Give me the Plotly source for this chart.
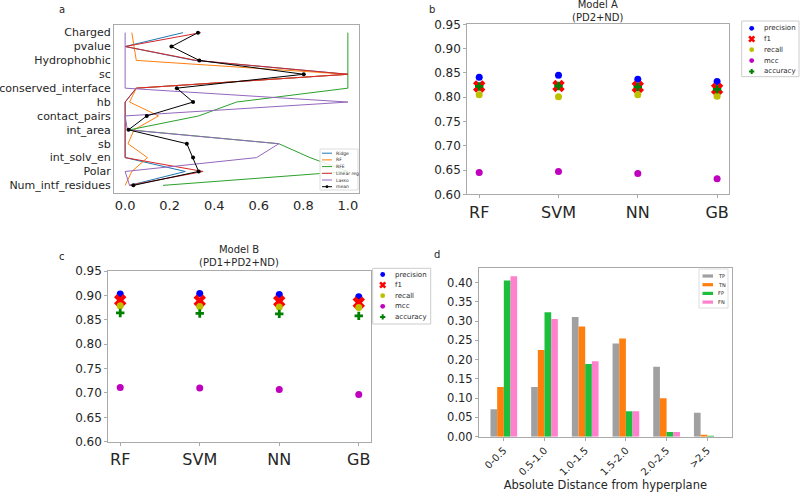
import plotly.graph_objects as go

# ---------------- data ----------------
features = ["Charged", "pvalue", "Hydrophobhic", "sc", "conserved_interface", "hb",
            "contact_pairs", "int_area", "sb", "int_solv_en", "Polar", "Num_intf_residues"]
ridge = [0.26, 0.0, 0.31, 1.0, 0.05, 0.0, 0.0, 0.0, 0.0, 0.0, 0.27, 0.02]
rf_imp = [0.03, 0.04, 0.05, 1.0, 0.05, 0.02, 0.15, 0.04, 0.013, 0.10, 0.03, 0.0]
rfe = [1.0, 1.0, 1.0, 1.0, 1.0, 0.50, 0.33, 0.02, 0.69, 0.83, 1.0, 0.17]
linreg = [0.34, 0.0, 0.32, 1.0, 0.05, 0.0, 0.0, 0.0, 0.0, 0.0, 0.35, 0.02]
lasso = [0.0, 0.0, 0.0, 0.0, 0.0, 1.0, 0.0, 0.01, 0.69, 0.59, 0.0, 0.02]
mean_imp = [0.327, 0.208, 0.333, 0.802, 0.232, 0.305, 0.097, 0.015, 0.277, 0.305, 0.330, 0.037]
a_series_names = ["Ridge", "RF", "RFE", "Linear reg", "Lasso", "mean"]

models = ["RF", "SVM", "NN", "GB"]
metric_names = ["precision", "f1", "recall", "mcc", "accuracy"]
a_precision = [0.841, 0.845, 0.837, 0.832]
a_f1 = [0.822, 0.823, 0.821, 0.817]
a_recall = [0.805, 0.801, 0.805, 0.802]
a_mcc = [0.645, 0.647, 0.643, 0.632]
a_accuracy = [0.822, 0.823, 0.821, 0.816]

b_precision = [0.903, 0.904, 0.902, 0.897]
b_f1 = [0.890, 0.889, 0.888, 0.885]
b_recall = [0.879, 0.877, 0.876, 0.875]
b_mcc = [0.711, 0.710, 0.707, 0.697]
b_accuracy = [0.864, 0.863, 0.862, 0.858]

bins = ["0-0.5", "0.5-1.0", "1.0-1.5", "1.5-2.0", "2.0-2.5", ">2.5"]
conf_names = ["TP", "TN", "FP", "FN"]
tp = [0.071, 0.129, 0.311, 0.242, 0.182, 0.062]
tn = [0.129, 0.225, 0.286, 0.255, 0.100, 0.003]
fp = [0.406, 0.323, 0.189, 0.066, 0.012, 0.001]
fn = [0.417, 0.306, 0.196, 0.066, 0.012, 0.0]

# ---------------- styling ----------------
FONT = "DejaVu Sans"
TXT = "#262626"
W, H = 800, 492
line_colors = ["#1f77b4", "#ff7f0e", "#2ca02c", "#d62728", "#9467bd", "black"]
metric_style = {
    "precision": dict(color="#0000ff", size=7, symbol="circle"),
    "f1": dict(color="#ff0000", size=11, symbol="x"),
    "recall": dict(color="#bfbf00", size=7, symbol="circle"),
    "mcc": dict(color="#bf00bf", size=7, symbol="circle"),
    "accuracy": dict(color="#008000", size=7, symbol="cross"),
}
bar_colors = ["#a0a0a0", "#ff7f0e", "#1cbf3c", "#ff80cc"]


def X(px):
    return px / W


def Y(py):
    return 1 - py / H


def px_x(a, b):
    return [X(a), X(b)]


def px_y(top, bottom):
    return [Y(bottom), Y(top)]


fig = go.Figure()

# ---------------- panel a ----------------
for name, vals, col in zip(a_series_names, [ridge, rf_imp, rfe, linreg, lasso, mean_imp], line_colors):
    is_mean = name == "mean"
    fig.add_trace(go.Scatter(x=vals, y=features, mode="lines+markers" if is_mean else "lines", name=name,
                             line=dict(color=col, width=1), marker=dict(size=4, color=col),
                             xaxis="x", yaxis="y", showlegend=False))

# ---------------- panels b and c ----------------
def add_metrics(series, xa, ya):
    for name, vals in zip(metric_names, series):
        fig.add_trace(go.Scatter(x=models, y=vals, mode="markers", name=name,
                                 marker=dict(**metric_style[name], line=dict(width=0)),
                                 xaxis=xa, yaxis=ya, showlegend=False))


add_metrics([a_precision, a_f1, a_recall, a_mcc, a_accuracy], "x2", "y2")
add_metrics([b_precision, b_f1, b_recall, b_mcc, b_accuracy], "x3", "y3")

# ---------------- panel d ----------------
for name, vals, col in zip(conf_names, [tp, tn, fp, fn], bar_colors):
    fig.add_trace(go.Bar(x=bins, y=vals, name=name, marker=dict(color=col, line=dict(width=0)),
                         xaxis="x4", yaxis="y4", showlegend=False))

SP = "#aaaaaa"


def axis(size, ticks=True, **kw):
    d = dict(showgrid=False, zeroline=False, showline=True, linecolor=SP, linewidth=1, mirror=True,
             ticks="outside" if ticks else "", ticklen=3 if ticks else 0, tickcolor=SP, automargin=False,
             tickfont=dict(family=FONT, size=size, color=TXT))
    d.update(kw)
    return d


fig.update_layout(
    width=W, height=H, margin=dict(l=0, r=0, t=0, b=0, autoexpand=False),
    paper_bgcolor="white", plot_bgcolor="white", showlegend=False,
    font=dict(family=FONT, color=TXT),
    barmode="group", bargap=0.344, bargroupgap=0,
    xaxis=axis(13, ticks=False, domain=px_x(114, 359), anchor="y", range=[-0.05, 1.05],
               tickvals=[0, 0.2, 0.4, 0.6, 0.8, 1.0], tickformat=".1f"),
    yaxis=axis(11, ticks=False, domain=px_y(25, 193), anchor="x", type="category",
               categoryorder="array", categoryarray=features[::-1], range=[-0.55, 11.55]),
    xaxis2=axis(16, domain=px_x(467.3, 729), anchor="y2", type="category", range=[-0.15, 3.15]),
    yaxis2=axis(12, domain=px_y(24.3, 194.3), anchor="x2", range=[0.60, 0.95], dtick=0.05, tickformat=".2f"),
    xaxis3=axis(16, domain=px_x(108.3, 370.7), anchor="y3", type="category", range=[-0.15, 3.15]),
    yaxis3=axis(12, domain=px_y(271, 441.7), anchor="x3", range=[0.60, 0.95], dtick=0.05, tickformat=".2f"),
    xaxis4=axis(10, domain=px_x(479, 731.7), anchor="y4", type="category", range=[-0.61, 5.6], tickangle=-45,
                title=dict(text="Absolute Distance from hyperplane", font=dict(family=FONT, size=11.5, color=TXT),
                           standoff=0)),
    yaxis4=axis(11.5, domain=px_y(267.7, 436.7), anchor="x4", range=[0, 0.439], dtick=0.05, tickformat=".2f"),
)

# ---------------- legends (drawn as layout shapes + text) ----------------
shapes = []
annots = []


def box(x0, y0, x1, y1, fill="white", edge="#cccccc"):
    shapes.append(dict(type="rect", xref="paper", yref="paper", x0=X(x0), x1=X(x1), y0=Y(y1), y1=Y(y0),
                       line=dict(color=edge, width=1), fillcolor=fill, layer="above"))


def label(text, x, y, size):
    annots.append(dict(text=text, x=X(x), y=Y(y), xref="paper", yref="paper", showarrow=False,
                       xanchor="left", yanchor="middle", font=dict(family=FONT, size=size, color=TXT)))


def circle(cx, cy, r, color):
    shapes.append(dict(type="circle", xref="paper", yref="paper", x0=X(cx - r), x1=X(cx + r),
                       y0=Y(cy + r), y1=Y(cy - r), fillcolor=color, line=dict(width=0), layer="above"))


def path(d, color, width):
    shapes.append(dict(type="path", xref="paper", yref="paper", path=d, line=dict(color=color, width=width),
                       layer="above"))


def xmark(cx, cy, a, color, width):
    d = (f"M {X(cx - a)},{Y(cy - a)} L {X(cx + a)},{Y(cy + a)} "
         f"M {X(cx - a)},{Y(cy + a)} L {X(cx + a)},{Y(cy - a)}")
    path(d, color, width)


def plus(cx, cy, a, color, width):
    d = (f"M {X(cx - a)},{Y(cy)} L {X(cx + a)},{Y(cy)} "
         f"M {X(cx)},{Y(cy - a)} L {X(cx)},{Y(cy + a)}")
    path(d, color, width)


# legend of panel a
box(320, 149, 358, 190, fill="rgba(255,255,255,0.85)", edge="#dddddd")
rows_a = [153.2, 159.9, 166.6, 173.3, 180.0, 186.7]
for name, col, ry in zip(a_series_names, line_colors, rows_a):
    path(f"M {X(322)},{Y(ry)} L {X(332)},{Y(ry)}", col, 1)
    if name == "mean":
        circle(327, ry, 1.4, col)
    label(name, 334, ry, 4.5)


def metric_legend(x0, y0, x1, y1, rows, mx, tx):
    box(x0, y0, x1, y1)
    for name, ry in zip(metric_names, rows):
        st = metric_style[name]
        if st["symbol"] == "circle":
            circle(mx, ry, 2.4, st["color"])
        elif st["symbol"] == "x":
            xmark(mx, ry, 2.6, st["color"], 2.6)
        else:
            plus(mx, ry, 2.6, st["color"], 2)
        label(name, tx, ry, 7)


metric_legend(741.7, 21, 799, 76.7, [28.3, 39.0, 49.7, 60.6, 71.5], 751.7, 762)
metric_legend(372.7, 268.3, 430.7, 324, [274.5, 285.0, 295.7, 306.3, 316.9], 382.7, 393)

# legend of panel d
box(699, 269, 728, 308, edge="#dddddd")
for name, col, ry in zip(conf_names, bar_colors, [276.0, 284.7, 293.4, 302.1]):
    shapes.append(dict(type="rect", xref="paper", yref="paper", x0=X(702.5), x1=X(713), y0=Y(ry + 1.6),
                       y1=Y(ry - 1.6), fillcolor=col, line=dict(width=0), layer="above"))
    label(name, 716, ry, 5)

# panel letters and titles
for text, x, y in [("a", 62, 9), ("b", 432, 10), ("c", 62, 256), ("d", 437, 254),
                   ("Model A<br>(PD2+ND)", 598, 11), ("Model B<br>(PD1+PD2+ND)", 239, 256)]:
    annots.append(dict(text=text, x=X(x), y=Y(y), xref="paper", yref="paper", showarrow=False,
                       xanchor="center", yanchor="middle", font=dict(family=FONT, size=10, color=TXT)))

fig.update_layout(shapes=shapes, annotations=annots)

# remove the default page margin so the 800x492 figure fills the window exactly
fig.write_html("out.html", config={"displayModeBar": False},
               post_script="document.body.style.margin='0';document.body.style.overflow='hidden';")
